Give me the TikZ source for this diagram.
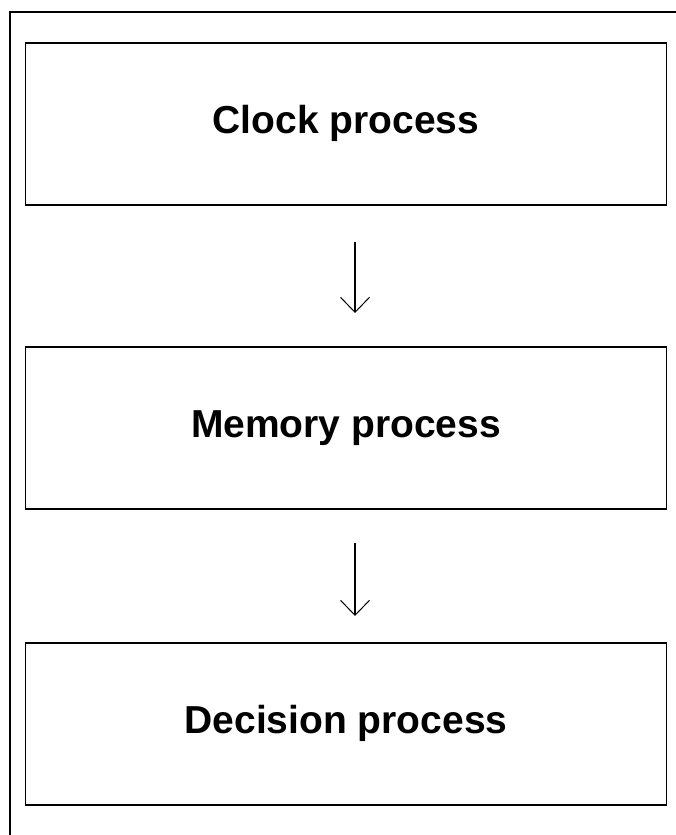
\documentclass[tikz,border=0pt]{standalone}
\usepackage{fontspec}
\setmainfont{Liberation Sans}
\usetikzlibrary{arrows.meta}
\begin{document}
\begin{tikzpicture}[x=1pt,y=-1pt,
  stage/.style={draw, line width=1.6pt, minimum width=641pt, minimum height=162pt,
    inner sep=0pt, outer sep=0pt},
  stagelabel/.style={anchor=base, font=\fontsize{39}{44}\selectfont\bfseries},
  flow/.style={line width=1.4pt, -{Straight Barb[length=15pt,width=29pt,line width=1pt]}}]
  \useasboundingbox (0,0) rectangle (676,835);
  % outer frame, only its left and top sides fall inside the page
  \draw[line width=1.4pt] (10,835) -- (10,12) -- (676,12);
  % the three stages
  \node[stage] (clock)    at (346,124) {};
  \node[stage] (memory)   at (346,428) {};
  \node[stage] (decision) at (346,724) {};
  \node[stagelabel] (clocktxt)    at (346,133) {Clock process};
  \node[stagelabel] (memorytxt)   at (346,437) {Memory process};
  \node[stagelabel] (decisiontxt) at (346,733) {Decision process};
  % connectors between stages
  \draw[flow] ([xshift=9pt,yshift=-37pt]clock.south) -- ([xshift=9pt,yshift=34pt]memory.north);
  \draw[flow] ([xshift=9pt,yshift=-34pt]memory.south) -- ([xshift=9pt,yshift=27pt]decision.north);
\end{tikzpicture}
\end{document}
